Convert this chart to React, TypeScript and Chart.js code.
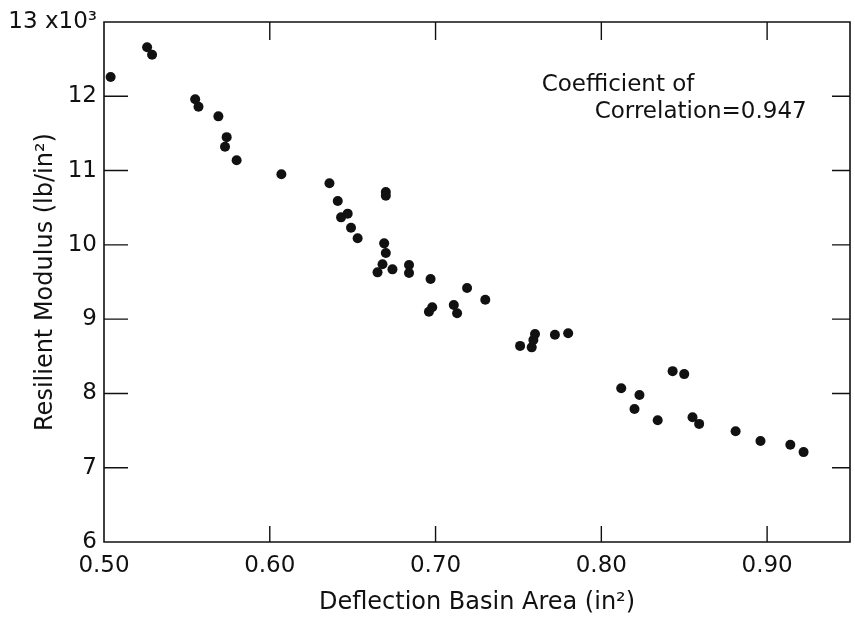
import React, { useEffect, useRef } from 'react';
import { Chart, registerables } from 'chart.js';

Chart.register(...registerables);

// Deflection basin area (in²)
const deflectionArea = [
  0.504, 0.526, 0.529, 0.555, 0.557, 0.569, 0.574, 0.573, 0.580, 0.607,
  0.636, 0.670, 0.670, 0.641, 0.643, 0.647, 0.649, 0.653, 0.669, 0.670,
  0.668, 0.665, 0.674, 0.684, 0.684, 0.697, 0.719, 0.730, 0.698, 0.696,
  0.711, 0.713, 0.751, 0.758, 0.759, 0.760, 0.772, 0.780,
  0.843, 0.850,
  0.812, 0.823, 0.820, 0.834, 0.855, 0.859, 0.881, 0.896, 0.914, 0.922,
];

// Resilient modulus (×10³ lb/in²)
const resilientModulus = [
  12.26, 12.66, 12.56, 11.96, 11.86, 11.73, 11.45, 11.32, 11.14, 10.95,
  10.83, 10.71, 10.66, 10.59, 10.37, 10.42, 10.23, 10.09, 10.02, 9.89,
  9.74, 9.63, 9.67, 9.73, 9.62, 9.54, 9.42, 9.26, 9.16, 9.10,
  9.19, 9.08, 8.64, 8.62, 8.72, 8.80, 8.79, 8.81,
  8.30, 8.26,
  8.07, 7.98, 7.79, 7.64, 7.68, 7.59, 7.49, 7.36, 7.31, 7.21,
];

const xTickLabels = ['0.50', '0.60', '0.70', '0.80', '0.90'];
const yTickLabels = ['6', '7', '8', '9', '10', '11', '12', '13 x10³'];

const xTitle = 'Deflection Basin Area (in²)';
const yTitle = 'Resilient Modulus (lb/in²)';
const annotationLines = ['Coefficient of', 'Correlation=0.947'];
const annotationAnchors = [
  { x: 0.764, y: 12.15 },
  { x: 0.796, y: 11.79 },
];

const INK = '#111';
const FONT = '"DejaVu Sans", sans-serif';

const framePlugin = {
  id: 'framePlugin',
  afterDatasetsDraw(chart: any) {
    const { ctx, chartArea } = chart;
    const { left, right, top, bottom } = chartArea;
    const xs = chart.scales.x;
    const ys = chart.scales.y;
    ctx.save();
    ctx.strokeStyle = INK;
    ctx.lineWidth = 1.6;
    ctx.beginPath();
    ctx.rect(left, top, right - left, bottom - top);
    ctx.stroke();
    ctx.lineWidth = 1.4;
    ctx.beginPath();
    ys.ticks.forEach((t: any) => {
      const py = ys.getPixelForValue(t.value);
      if (Math.abs(py - top) < 2 || Math.abs(py - bottom) < 2) return;
      ctx.moveTo(left, py);
      ctx.lineTo(left + 24, py);
      ctx.moveTo(right - 18, py);
      ctx.lineTo(right, py);
    });
    xs.ticks.forEach((t: any) => {
      const px = xs.getPixelForValue(t.value);
      if (Math.abs(px - left) < 2 || Math.abs(px - right) < 2) return;
      ctx.moveTo(px, bottom);
      ctx.lineTo(px, bottom - 16);
      ctx.moveTo(px, top);
      ctx.lineTo(px, top + 18);
    });
    ctx.stroke();

    ctx.fillStyle = INK;
    ctx.font = `23px ${FONT}`;
    ctx.textAlign = 'left';
    ctx.textBaseline = 'middle';
    annotationLines.forEach((line, i) => {
      const a = annotationAnchors[i];
      ctx.fillText(line, xs.getPixelForValue(a.x), ys.getPixelForValue(a.y));
    });
    ctx.restore();
  },
};

export default function App() {
  const canvasRef = useRef<HTMLCanvasElement | null>(null);

  useEffect(() => {
    const canvas = canvasRef.current;
    if (!canvas) return;
    const chart = new Chart(canvas, {
      type: 'scatter',
      data: {
        datasets: [
          {
            data: deflectionArea.map((v, i) => ({ x: v, y: resilientModulus[i] })),
            backgroundColor: INK,
            borderWidth: 0,
            pointRadius: 5,
            pointHoverRadius: 5,
          },
        ],
      },
      options: {
        responsive: false,
        animation: false,
        layout: { padding: { left: 0, top: 22, right: 1, bottom: 0 } },
        plugins: {
          legend: { display: false },
          tooltip: { enabled: false },
        },
        scales: {
          x: {
            type: 'linear',
            min: 0.5,
            max: 0.95,
            afterBuildTicks: (scale: any) => {
              scale.ticks = scale.ticks.filter((t: any) => t.value <= 0.9001);
            },
            afterFit: (scale: any) => {
              scale.height = 75;
            },
            ticks: {
              stepSize: 0.1,
              color: INK,
              font: { family: FONT, size: 23 },
              padding: 10,
              maxRotation: 0,
              autoSkip: false,
              callback: (_v: any, i: number) => xTickLabels[i],
            },
            grid: { display: false, drawTicks: false },
            border: { display: false },
            title: {
              display: true,
              text: xTitle,
              color: INK,
              font: { family: FONT, size: 24 },
              padding: { top: 0, bottom: 0 },
            },
          },
          y: {
            type: 'linear',
            min: 6,
            max: 13,
            afterFit: (scale: any) => {
              scale.width = 104;
            },
            ticks: {
              stepSize: 1,
              color: INK,
              font: { family: FONT, size: 23 },
              padding: 7,
              autoSkip: false,
              callback: (_v: any, i: number) => yTickLabels[i],
            },
            grid: { display: false, drawTicks: false },
            border: { display: false },
            title: {
              display: true,
              text: yTitle,
              color: INK,
              font: { family: FONT, size: 24 },
              padding: { top: 31, bottom: 0 },
            },
          },
        },
      },
      plugins: [framePlugin],
    });
    return () => chart.destroy();
  }, []);

  return (
    <div style={{ position: 'absolute', left: 0, top: 0, width: 855, height: 617, background: '#fff' }}>
      <canvas ref={canvasRef} width={855} height={617} />
    </div>
  );
}
